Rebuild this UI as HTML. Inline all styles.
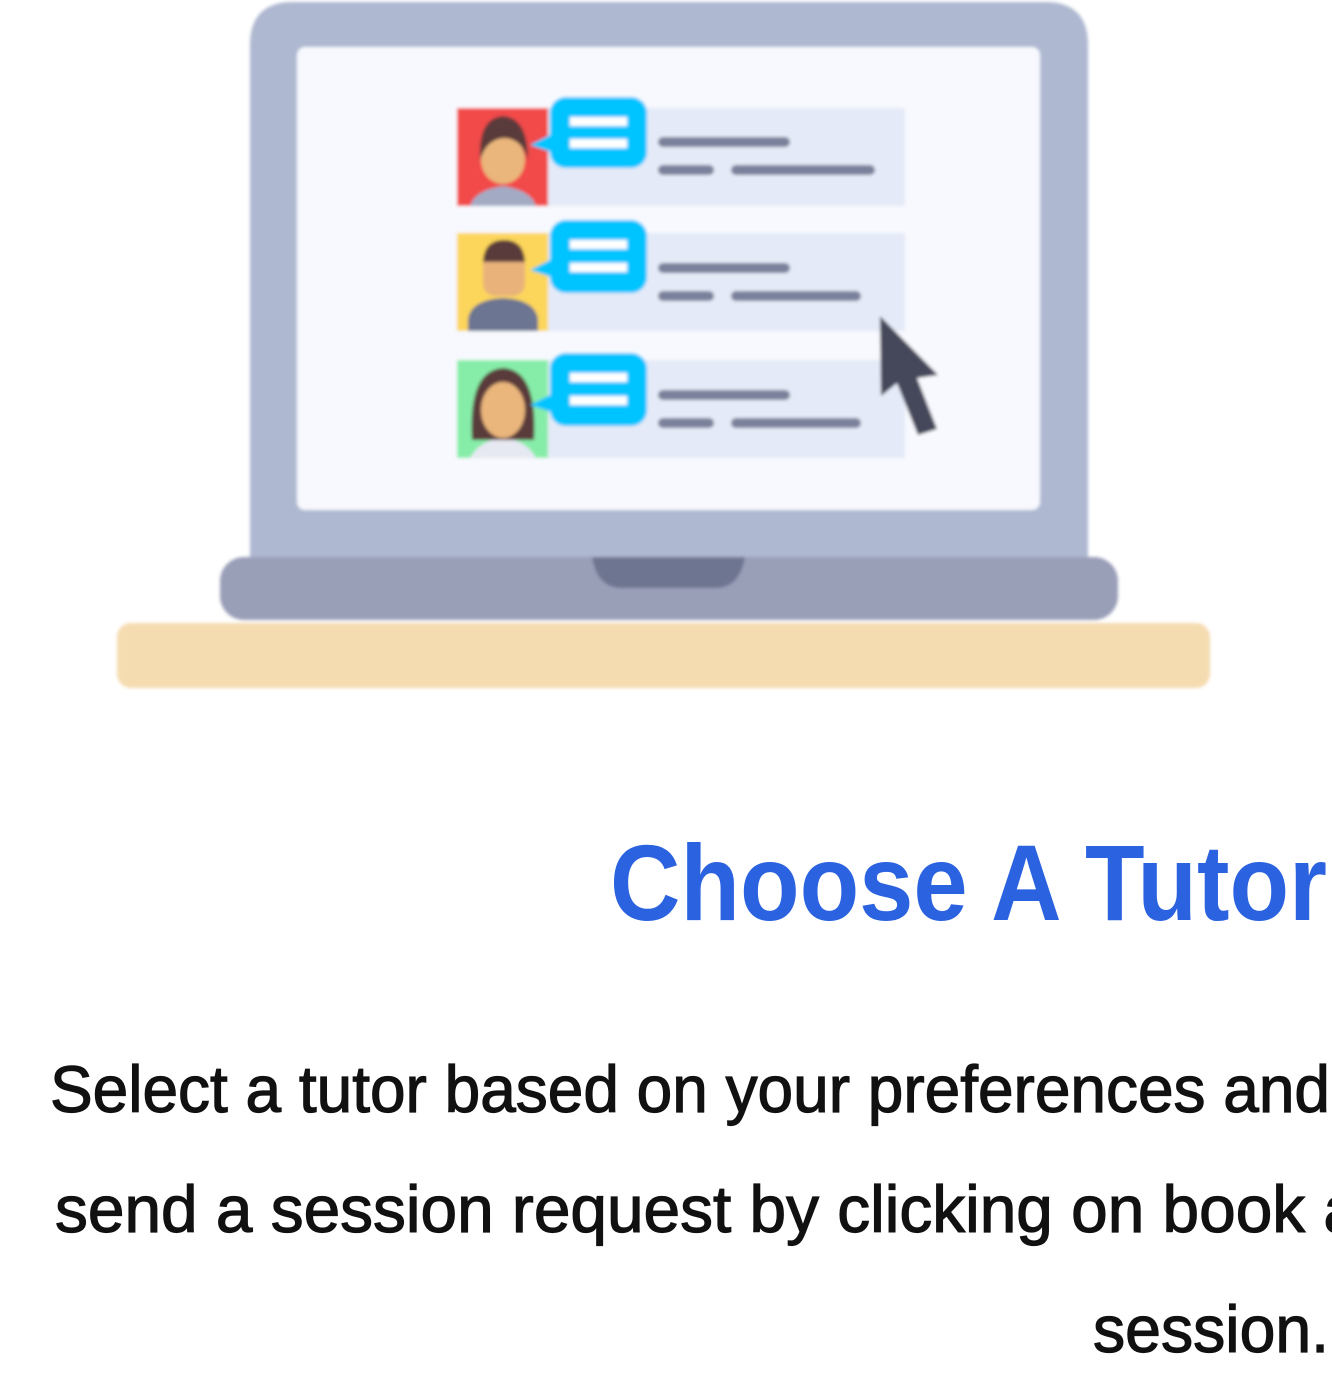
<!DOCTYPE html>
<html><head><meta charset="utf-8"><style>
html,body{margin:0;padding:0;background:#fff;overflow:hidden;width:1332px;height:1393px}
</style></head><body>
<svg width="1332" height="1393" viewBox="0 0 1332 1393" xmlns="http://www.w3.org/2000/svg">
<defs><filter id="b"><feGaussianBlur stdDeviation="1.5"/></filter></defs>
<g filter="url(#b)">
<path d="M250 560 V45 Q250 2 293 2 H1045 Q1088 2 1088 45 V560 Z" fill="#aeb8d0"/>
<rect x="297" y="47" width="743" height="463" rx="8" fill="#f8f9fe"/>
<rect x="220" y="557" width="898" height="63" rx="24" fill="#9a9fb8"/>
<path d="M592 557 H745 Q740 588 715 588 H622 Q597 588 592 557 Z" fill="#6e7590"/>
<rect x="117" y="623" width="1093" height="65" rx="14" fill="#f5dbb0"/>

<g>
<rect x="457" y="108" width="448" height="98" fill="#e4eaf7"/>
<rect x="457" y="108" width="91" height="98" fill="#f24a4a"/>
<path d="M470 206 Q475 190 503 186 Q531 190 536 206Z" fill="#a3aac4"/>
<ellipse cx="503" cy="160" rx="22" ry="24" fill="#eab67c"/>
<path d="M480 160 Q478 118 503 116 Q528 118 528 160 Q522 138 503 138 Q486 140 480 160Z" fill="#5a3a3a"/>
<path d="M530 145 L560 130 L560 155Z" fill="#00c4ff"/>
<rect x="550" y="97" width="97" height="71" rx="16" fill="#00c4ff"/>
<rect x="570" y="117" width="57" height="9" fill="#fff"/><rect x="570" y="139" width="57" height="9" fill="#fff"/>
<rect x="658" y="137" width="132" height="10" rx="5" fill="#7a819a"/>
<rect x="658" y="165" width="56" height="10" rx="5" fill="#7a819a"/>
<rect x="731" y="165" width="144" height="10" rx="5" fill="#7a819a"/>
</g>
<g>
<rect x="457" y="233" width="448" height="98" fill="#e4eaf7"/>
<rect x="457" y="233" width="91" height="98" fill="#fcd65a"/>
<path d="M468 331 V320 Q470 300 503 298 Q536 300 538 320 V331Z" fill="#6c7592"/>
<rect x="483" y="248" width="42" height="48" rx="12" fill="#e9b27a"/>
<path d="M483 262 Q484 240 504 240 Q524 240 525 262Z" fill="#5a3a3a"/>
<path d="M530 270 L560 255 L560 280Z" fill="#00c4ff"/>
<rect x="550" y="220" width="97" height="73" rx="16" fill="#00c4ff"/>
<rect x="570" y="240" width="57" height="9" fill="#fff"/><rect x="570" y="263" width="57" height="9" fill="#fff"/>
<rect x="658" y="263" width="132" height="10" rx="5" fill="#7a819a"/>
<rect x="658" y="291" width="56" height="10" rx="5" fill="#7a819a"/>
<rect x="731" y="291" width="130" height="10" rx="5" fill="#7a819a"/>
</g>
<g>
<rect x="457" y="360" width="448" height="98" fill="#e4eaf7"/>
<rect x="457" y="360" width="91" height="98" fill="#86eda8"/>
<path d="M470 458 Q480 440 503 438 Q526 440 536 458Z" fill="#e6e8f2"/>
<path d="M472 440 Q468 370 503 368 Q538 370 534 440Z" fill="#5a3a3a"/>
<ellipse cx="503" cy="410" rx="22" ry="28" fill="#eab67c"/>
<path d="M530 405 L560 390 L560 415Z" fill="#00c4ff"/>
<rect x="550" y="353" width="97" height="73" rx="16" fill="#00c4ff"/>
<rect x="570" y="373" width="57" height="9" fill="#fff"/><rect x="570" y="396" width="57" height="9" fill="#fff"/>
<rect x="658" y="390" width="132" height="10" rx="5" fill="#7a819a"/>
<rect x="658" y="418" width="56" height="10" rx="5" fill="#7a819a"/>
<rect x="731" y="418" width="130" height="10" rx="5" fill="#7a819a"/>
</g>
<path d="M880 316 L881 396 L897 383 L918 435 L937 429 L917 378 L938 375 Z" fill="#45465a"/>
</g>

<text x="1327" y="920" text-anchor="end" font-family="Liberation Sans, sans-serif" font-weight="bold" font-size="108" fill="#2b62e0" textLength="717" lengthAdjust="spacingAndGlyphs">Choose A Tutor</text>
<g font-family="Liberation Sans, sans-serif" font-size="66" fill="#111" stroke="#111" stroke-width="1.2">
<text x="50" y="1112" textLength="1280" lengthAdjust="spacingAndGlyphs">Select a tutor based on your preferences and</text>
<text x="55" y="1232" textLength="1305" lengthAdjust="spacingAndGlyphs">send a session request by clicking on book a</text>
<text x="1093" y="1352" textLength="236" lengthAdjust="spacingAndGlyphs">session.</text>
</g>
</svg>
</body></html>
